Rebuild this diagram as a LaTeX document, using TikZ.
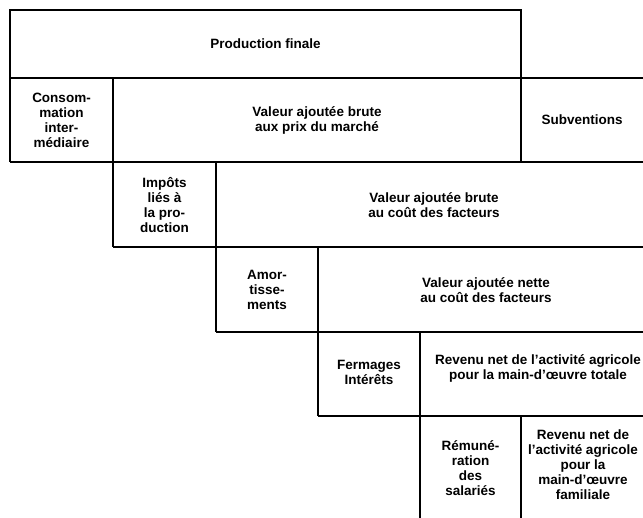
\documentclass[tikz,border=0pt]{standalone}
\usepackage{fontspec}
\setmainfont{Liberation Sans}
\usepackage{tikz}
\usetikzlibrary{positioning}

\tikzset{
    cell/.style={font=\fontsize{13.5}{15}\selectfont\bfseries, align=center, inner sep=0pt}
}

\begin{document}
\begin{tikzpicture}[
    x=1pt, y=-1pt,
    line width=1.6pt
]
    \useasboundingbox (0,0) rectangle (643,518);
    \clip (0,0) rectangle (643,518);

    % Frames
    \draw (10,10) rectangle (521,78);
    \draw (10,78) -- (660,78);
    \draw (10,78) -- (10,162);
    \draw (10,162) -- (660,162);
    \draw (113,78) -- (113,247);
    \draw (521,78) -- (521,162);
    \draw (113,247) -- (660,247);
    \draw (216,162) -- (216,332);
    \draw (216,332) -- (660,332);
    \draw (318,247) -- (318,416);
    \draw (318,416) -- (660,416);
    \draw (420,332) -- (420,530);
    \draw (521,416) -- (521,530);

    % Row labels
    \node[cell] (prodfin) at (265.5,44) {Production finale};

    \node[cell] (consint) at (61.5,120) {Consom-\\mation\\inter-\\médiaire};
    \node[cell] (vabmar) at (317,120) {Valeur ajoutée brute\\aux prix du marché};
    \node[cell] (subv) at (582,120) {Subventions};

    \node[cell] (impots) at (164.5,205) {Impôts\\liés à\\la pro-\\duction};
    \node[cell] (vabfac) at (434,205) {Valeur ajoutée brute\\au coût des facteurs};

    \node[cell] (amort) at (267,290) {Amor-\\tisse-\\ments};
    \node[cell] (vanfac) at (486,290) {Valeur ajoutée nette\\au coût des facteurs};

    \node[cell] (ferm) at (369,372) {Fermages\\Intérêts};
    \node[cell] (revtot) at (538,368) {Revenu net de l'activité agricole\\pour la main-d'œuvre totale};

    \node[cell] (remsal) at (470.5,468) {Rémuné-\\ration\\des\\salariés};
    \node[cell] (revfam) at (583,465) {Revenu net de\\l'activité agricole\\pour la\\main-d'œuvre\\familiale};
\end{tikzpicture}
\end{document}
